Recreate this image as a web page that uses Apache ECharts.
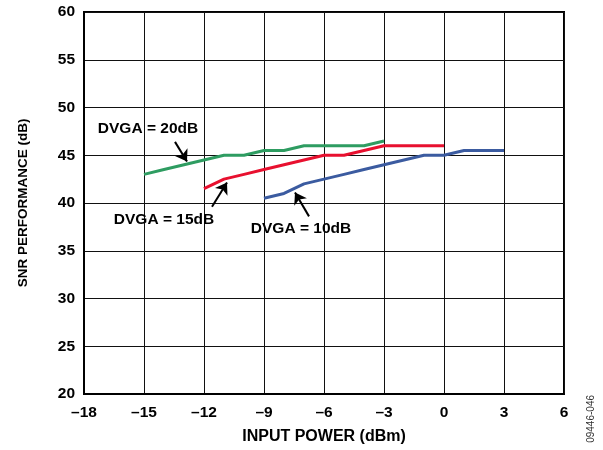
<!DOCTYPE html>
<html>
<head>
<meta charset="utf-8">
<script src="https://cdn.jsdelivr.net/npm/echarts@6/dist/echarts.min.js"></script>
<style>
  html, body { margin: 0; padding: 0; background: #fff; }
  #chart { width: 603px; height: 450px; }
</style>
</head>
<body>
<div id="chart"></div>
<script>
// input power (dBm) and SNR (dB) for each DVGA gain
const dvga20X = [-15, -14, -13, -12, -11, -10, -9, -8, -7, -6, -5, -4, -3]
const dvga20Y = [43, 43.5, 44, 44.5, 45, 45, 45.5, 45.5, 46, 46, 46, 46, 46.5]
const dvga15X = [-12, -11, -10, -9, -8, -7, -6, -5, -4, -3, -2, -1, 0]
const dvga15Y = [41.5, 42.5, 43, 43.5, 44, 44.5, 45, 45, 45.5, 46, 46, 46, 46]
const dvga10X = [-9, -8, -7, -6, -5, -4, -3, -2, -1, 0, 1, 2, 3]
const dvga10Y = [40.5, 41, 42, 42.5, 43, 43.5, 44, 44.5, 45, 45, 45.5, 45.5, 45.5]

// callouts, in data coordinates
const labelNames = ['DVGA = 20dB', 'DVGA = 15dB', 'DVGA = 10dB']
const labelAt = [[-14.8, 47.8], [-14, 38.3], [-7.15, 37.35]]
const arrowFrom = [[-13.45, 46.4], [-11.6, 39.6], [-6.75, 38.6]]
const arrowTo = [[-12.85, 44.35], [-10.85, 42.15], [-7.45, 41.1]]

const colors = ['#2E9C61', '#E8102F', '#3B5BA0']

function zip(xs, ys) {
  return xs.map((x, i) => [x, ys[i]])
}

function callout(i) {
  return {
    markPoint: {
      silent: true,
      symbol: 'rect',
      symbolSize: 1,
      itemStyle: { color: 'rgba(0,0,0,0)' },
      label: {
        show: true,
        position: 'inside',
        color: '#000',
        fontWeight: 'bold',
        fontSize: 15.5,
        fontFamily: 'Liberation Sans',
        formatter: labelNames[i]
      },
      data: [{ coord: labelAt[i] }]
    },
    markLine: {
      silent: true,
      symbol: ['none', 'arrow'],
      symbolSize: 11,
      lineStyle: { color: '#000', width: 2, type: 'solid' },
      label: { show: false },
      data: [[{ coord: arrowFrom[i] }, { coord: arrowTo[i] }]]
    }
  }
}

const chart = echarts.init(document.getElementById('chart'), null, { renderer: 'canvas' })
const lines = [zip(dvga20X, dvga20Y), zip(dvga15X, dvga15Y), zip(dvga10X, dvga10Y)]

chart.setOption({
  animation: false,
  backgroundColor: '#fff',
  textStyle: { fontFamily: 'Liberation Sans' },
  grid: {
    left: 84,
    right: 39,
    top: 12,
    bottom: 55,
    show: true,
    borderColor: '#000',
    borderWidth: 2
  },
  xAxis: {
    type: 'value',
    min: -18,
    max: 6,
    interval: 3,
    name: 'INPUT POWER (dBm)',
    nameLocation: 'middle',
    nameGap: 35,
    nameTextStyle: { color: '#000', fontWeight: 'bold', fontSize: 16 },
    axisLine: { onZero: false, lineStyle: { color: '#000', width: 2 } },
    axisTick: { show: false },
    axisLabel: {
      color: '#000',
      fontWeight: 'bold',
      fontSize: 15.5,
      margin: 11,
      formatter(v) {
        return String(v).replace('-', '\u2013')
      }
    },
    splitLine: { lineStyle: { color: '#111', width: 1 } }
  },
  yAxis: {
    type: 'value',
    min: 20,
    max: 60,
    interval: 5,
    name: 'SNR PERFORMANCE (dB)',
    nameLocation: 'middle',
    nameGap: 54,
    nameTextStyle: { color: '#000', fontWeight: 'bold', fontSize: 13.5 },
    axisLine: { onZero: false, lineStyle: { color: '#000', width: 2 } },
    axisTick: { show: false },
    axisLabel: { color: '#000', fontWeight: 'bold', fontSize: 15.5, margin: 9 },
    splitLine: { lineStyle: { color: '#111', width: 1 } }
  },
  graphic: [{
    type: 'text',
    left: 586,
    top: 395,
    rotation: Math.PI / 2,
    style: { text: '09446-046', fill: '#333', fontSize: 10, fontFamily: 'Liberation Sans' }
  }],
  series: lines.map((d, i) => Object.assign({
    type: 'line',
    data: d,
    showSymbol: false,
    symbol: 'none',
    z: 3,
    lineStyle: { color: colors[i], width: 3 },
    itemStyle: { color: colors[i] }
  }, callout(i)))
})
</script>
</body>
</html>
